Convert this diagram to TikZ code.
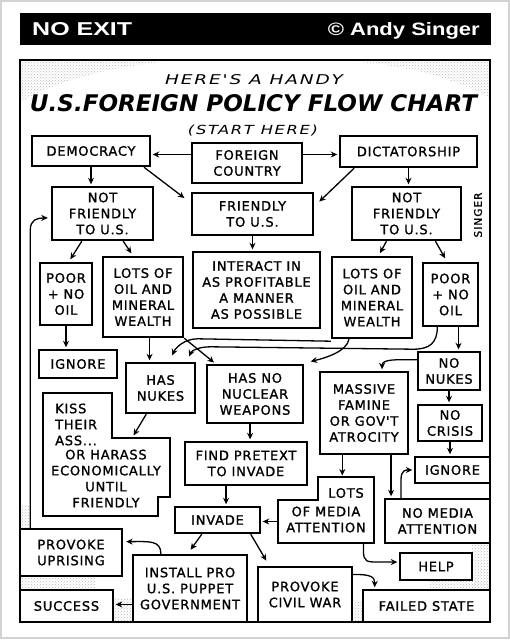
\documentclass[tikz,border=0pt]{standalone}
\usepackage{fontspec}
\usetikzlibrary{arrows.meta,calc,patterns}
\newfontfamily\lettering{DejaVu Sans}[LetterSpace=6,FakeBold=1.2]
\newfontfamily\widefont{DejaVu Sans}[LetterSpace=10]
\newfontfamily\sigfont{DejaVu Sans}[LetterSpace=10,FakeBold=1.2]
\newfontfamily\titlefont{DejaVu Sans}
\newfontfamily\headfont{Liberation Sans}
\tikzset{
  boxtxt/.style={font=\lettering\fontsize{13}{16}\selectfont},
  box/.style={boxtxt, draw, line width=2.4pt, fill=white, inner sep=0pt, align=center},
  sz/.style 2 args={minimum width=#1pt, minimum height=#2pt},
  txt/.style={boxtxt, inner sep=0pt, align=center},
  outline/.style={draw, line width=2.4pt, fill=white, line join=miter},
  arr/.style={line width=1.3pt, -{Stealth[length=6.5pt,width=6pt]}, shorten >=1.5pt},
  stip/.style={pattern=crosshatch dots, pattern color=gray!55}
}
\begin{document}
\begin{tikzpicture}[x=1pt,y=-1pt]
\useasboundingbox (0,0) rectangle (510,640);
\fill[white] (0,0) rectangle (510,640);
\draw[gray!35, line width=1.5pt] (1,1) rectangle (509,638);
% header
\fill[black] (20,13) rectangle (491,45);
\node[anchor=base west, inner sep=0pt, text=white, font=\headfont\bfseries] (hdrL) at (32,35.5) {\resizebox{100pt}{13pt}{NO EXIT}};
\node[anchor=base east, inner sep=0pt, text=white, font=\headfont\bfseries] (hdrR) at (480,35.5) {\resizebox{152pt}{13pt}{© Andy Singer}};
% panel stipple
\fill[stip] (21,61) -- (168,61) .. controls (120,66) and (60,78) .. (21,102) -- cycle;
\fill[stip] (352,61) -- (489,61) -- (489,98) .. controls (460,80) and (410,66) .. (352,61) -- cycle;
\fill[stip] (21,577) rectangle (95,589);
\fill[stip] (21,505) rectangle (29,528);
\fill[stip] (114,598) rectangle (132,621);
\fill[stip] (472,543) rectangle (489,589);
\fill[stip] (430,581) rectangle (489,589);
\fill[stip] (353,600) rectangle (362,621);
% panel
\draw[line width=2pt] (20,60) rectangle (490,622);
% titles
\node[inner sep=0pt] (t1) at (254,80) {\resizebox{178pt}{10pt}{\widefont\itshape HERE'S A HANDY}};
\node[inner sep=0pt] (t2) at (253.5,103.5) {\resizebox{447pt}{17pt}{\titlefont\bfseries\itshape U.S.FOREIGN POLICY FLOW CHART}};
\node[inner sep=0pt] (t3) at (253,131) {\resizebox{130pt}{9.5pt}{\widefont\itshape (START HERE)}};
\node[inner sep=0pt, rotate=90, font=\sigfont\fontsize{10.5}{11}\selectfont] (sig) at (478,215) {SINGER};
% boxes
\node[box, sz={118}{30}] (democracy) at (91,151) {DEMOCRACY};
\node[box, sz={110}{40}] (foreign) at (247,163) {FOREIGN\\COUNTRY};
\node[box, sz={137}{31}] (dictator) at (408.5,151.5) {DICTATORSHIP};
\node[box, sz={101}{53}] (nfL) at (102.5,213.5) {NOT\\FRIENDLY\\TO U.S.};
\node[box, sz={121}{42}] (friendly) at (252.5,214) {FRIENDLY\\TO U.S.};
\node[box, sz={109}{53}] (nfR) at (406.5,213.5) {NOT\\FRIENDLY\\TO U.S.};
\node[box, sz={52}{62}] (poorL) at (66,294) {POOR\\+ NO\\OIL};
\node[box, sz={80}{80}] (lotsL) at (143,297) {LOTS OF\\OIL AND\\MINERAL\\WEALTH};
\node[box, sz={127}{76}] (interact) at (256.5,290) {INTERACT IN\\AS PROFITABLE\\A MANNER\\AS POSSIBLE};
\node[box, sz={80}{81}] (lotsR) at (372,297.5) {LOTS OF\\OIL AND\\MINERAL\\WEALTH};
\node[box, sz={55}{63}] (poorR) at (450.5,294.5) {POOR\\+ NO\\OIL};
\node[box, sz={78}{28}] (ignoreL) at (78,364) {IGNORE};
\node[box, sz={69}{50}] (hasnukes) at (160.5,388) {HAS\\NUKES};
\node[box, sz={96}{58}] (hasno) at (255,394) {HAS NO\\NUCLEAR\\WEAPONS};
\node[box, sz={62}{38}] (nonukes) at (449,371) {NO\\NUKES};
\node[box, sz={88}{82}] (famine) at (364,413) {MASSIVE\\FAMINE\\OR GOV'T\\ATROCITY};
\node[box, sz={64}{36}] (nocrisis) at (450,423) {NO\\CRISIS};
\node[box, sz={75}{26}] (ignoreR) at (452.5,470) {IGNORE};
\node[box, sz={122}{43}] (pretext) at (246,463.5) {FIND PRETEXT\\TO INVADE};
\node[box, sz={85}{26}] (invade) at (217.5,520) {INVADE};
\node[box, sz={105}{44}] (nomedia) at (437.5,521) {NO MEDIA\\ATTENTION};
\node[box, sz={72}{27}] (help) at (436,566.5) {HELP};
\node[box, sz={94}{55}] (civil) at (305,594.5) {PROVOKE\\CIVIL WAR};
\node[box, sz={127}{32}] (failed) at (426.5,606) {FAILED STATE};
\node[box, sz={114}{67}] (install) at (190,588.5) {INSTALL PRO\\U.S. PUPPET\\GOVERNMENT};
\node[box, sz={102}{47}] (uprising) at (71,552.5) {PROVOKE\\UPRISING};
\node[box, sz={93}{32}] (success) at (66.5,606) {SUCCESS};
% notched boxes
\draw[outline] (43,393) -- (112,393) -- (112,438) -- (170,438) -- (170,497) -- (158,497) -- (158,516) -- (43,516) -- cycle;
\coordinate (kissN) at (132,438);
\node[txt, anchor=west, align=left] (kissA) at (55,424.5) {KISS\\THEIR\\ASS...};
\node[txt] (kissB) at (106,478.5) {OR HARASS\\ECONOMICALLY\\UNTIL\\FRIENDLY};
\coordinate (mTL) at (318,477);
\coordinate (mTR) at (374,477);
\coordinate (mBR) at (374,543);
\coordinate (mBL) at (278,543);
\coordinate (mL) at (278,500);
\coordinate (mS) at (318,500);
\draw[outline] (mTL) -- (mTR) -- (mBR) -- (mBL) -- (mL) -- (mS) -- cycle;
\node[txt] (mediaA) at (346,493) {LOTS};
\node[txt] (mediaB) at (326,519.5) {OF MEDIA\\ATTENTION};
\coordinate (mW) at ($(mL)!.5!(mBL)$);
\coordinate (mB) at ($(mBL)!.89!(mBR)$);
% connectors
\coordinate (fw) at ($(foreign.north west)!.3!(foreign.south west)$);
\draw[arr] (fw) -- (fw -| democracy.east);
\coordinate (fe) at ($(foreign.north east)!.3!(foreign.south east)$);
\draw[arr] (fe) -- (fe -| dictator.west);
\draw[arr] (democracy.south) -- (democracy.south |- nfL.north);
\draw[arr, shorten >=8pt] ($(democracy.south east)!.06!(democracy.south west)$) -- ($(friendly.north west)!.25!(friendly.south west)$);
\draw[arr, shorten >=7pt] ($(dictator.south west)!.11!(dictator.south east)$) -- ($(friendly.north east)!.33!(friendly.south east)$);
\draw[arr] (dictator.south) -- (dictator.south |- nfR.north);
\draw[arr, shorten >=3pt] ($(nfL.south west)!.3!(nfL.south east)$) -- ($(poorL.north west)!.55!(poorL.north east)$);
\draw[arr, shorten >=3pt] ($(nfL.south west)!.7!(nfL.south east)$) -- ($(lotsL.north west)!.38!(lotsL.north east)$);
\draw[arr, shorten >=3pt] ($(nfR.south west)!.32!(nfR.south east)$) -- ($(lotsR.north west)!.58!(lotsR.north east)$);
\draw[arr, shorten >=4pt] ($(nfR.south west)!.76!(nfR.south east)$) -- ($(poorR.north west)!.44!(poorR.north east)$);
\draw[arr] (friendly.south) -- (friendly.south |- interact.north);
\draw[arr] (poorL.south) -- (poorL.south |- ignoreL.north);
\coordinate (lb) at ($(lotsL.south west)!.58!(lotsL.south east)$);
\draw[arr] (lb) -- (lb |- hasnukes.north);
\draw[arr, shorten >=2pt] (lotsL.south east) -- ($(hasno.north west)!.1!(hasno.north east)$);
\coordinate (lr) at ($(lotsR.south west)+(0,2)$);
\draw[arr] (lr) -- ($(hasnukes.north)+(37,-23)$) .. controls ($(hasnukes.north)+(24,-23)$) and ($(hasnukes.north)+(15,-14)$) .. ($(hasnukes.north)+(11,-5)$);
\coordinate (pr) at ($(poorR.south west)!.27!(poorR.south east)$);
\draw[arr] (pr) .. controls ($(pr)+(0,16)$) and ($(pr)+(-8,22)$) .. ($(pr)+(-24,22)$) -- ($(hasnukes.north)+(50,-15)$) .. controls ($(hasnukes.north)+(38,-15)$) and ($(hasnukes.north)+(31,-11)$) .. ($(hasnukes.north)+(28,-4)$);
\coordinate (lr2) at ($(lotsR.south west)!.22!(lotsR.south east)$);
\draw[arr] (lr2) .. controls ($(lr2)+(-2,12)$) and ($(hasno.north east)+(22,-6)$) .. ($(hasno.north east)+(5,-2)$);
\coordinate (pr3) at ($(poorR.south west)!.64!(poorR.south east)$);
\draw[arr] (pr3) -- (pr3 |- nonukes.north);
\coordinate (nnw) at ($(nonukes.north west)!.22!(nonukes.south west)$);
\coordinate (fn) at ($(famine.north west)!.7!(famine.north east)$);
\draw[arr] (nnw) .. controls ($(nnw)+(-20,0)$) and ($(fn)+(0,-12)$) .. (fn);
\draw[arr] (nonukes.south) -- (nonukes.south |- nocrisis.north);
\draw[arr] (nocrisis.south) -- (nocrisis.south |- ignoreR.north);
\coordinate (fs1) at ($(famine.south west)!.26!(famine.south east)$);
\draw[arr] (fs1) -- (fs1 |- mTR);
\coordinate (fs2) at ($(famine.south west)!.8!(famine.south east)$);
\draw[arr] (fs2) -- (fs2 |- nomedia.north);
\coordinate (nm) at ($(nomedia.north west)!.16!(nomedia.north east)$);
\draw[arr] (nm) -- ($(nm)+(0,-18)$) .. controls ($(nm)+(0,-28)$) and ($(ignoreR.west)+(-8,0)$) .. (ignoreR.west);
\coordinate (hn) at ($(hasno.south west)!.45!(hasno.south east)$);
\draw[arr] (hn) -- (hn |- pretext.north);
\coordinate (pt) at ($(pretext.south west)!.34!(pretext.south east)$);
\draw[arr] (pt) -- (pt |- invade.north);
\draw[arr] (mW) -- (mW -| invade.east);
\draw[arr, shorten >=5pt] ($(invade.south west)!.32!(invade.south east)$) -- ($(install.north west)!.48!(install.north east)$);
\draw[arr, shorten >=6pt] ($(invade.south west)!.88!(invade.south east)$) -- ($(civil.north west)!.13!(civil.north east)$);
\coordinate (hw) at ($(help.north west)!.35!(help.south west)$);
\draw[arr] (mB) -- ($(mB)+(0,8)$) .. controls ($(mB)+(0,19)$) and ($(mB)+(4,19)$) .. ($(mB)+(14,19)$) -- (hw);
\coordinate (ce) at ($(civil.north east)!.15!(civil.south east)$);
\coordinate (ft) at ($(failed.north west)!.1!(failed.north east)$);
\draw[arr] (ce) .. controls ($(ce)+(18,0)$) and ($(ft)+(0,-12)$) .. (ft);
\coordinate (it) at ($(install.north west)!.25!(install.north east)$);
\coordinate (ue) at ($(uprising.north east)!.28!(uprising.south east)$);
\draw[arr, shorten >=3pt] (it) .. controls ($(it)+(0,-14)$) and ($(ue)+(25,0)$) .. (ue);
\coordinate (iw) at ($(install.north west)!.73!(install.south west)$);
\draw[arr] (iw) -- (iw -| success.east);
\draw[arr, shorten >=3pt] ($(hasnukes.south west)!.3!(hasnukes.south east)$) -- (kissN);
\coordinate (uw) at ($(uprising.north west)!.11!(uprising.north east)$);
\coordinate (nw) at ($(nfL.north west)!.58!(nfL.south west)$);
\coordinate (unw) at (uw |- nw);
\draw[arr, shorten >=3pt] (uw) -- ($(unw)+(0,12)$) .. controls ($(unw)+(0,2)$) and ($(nw)+(-14,0)$) .. (nw);
\end{tikzpicture}
\end{document}
